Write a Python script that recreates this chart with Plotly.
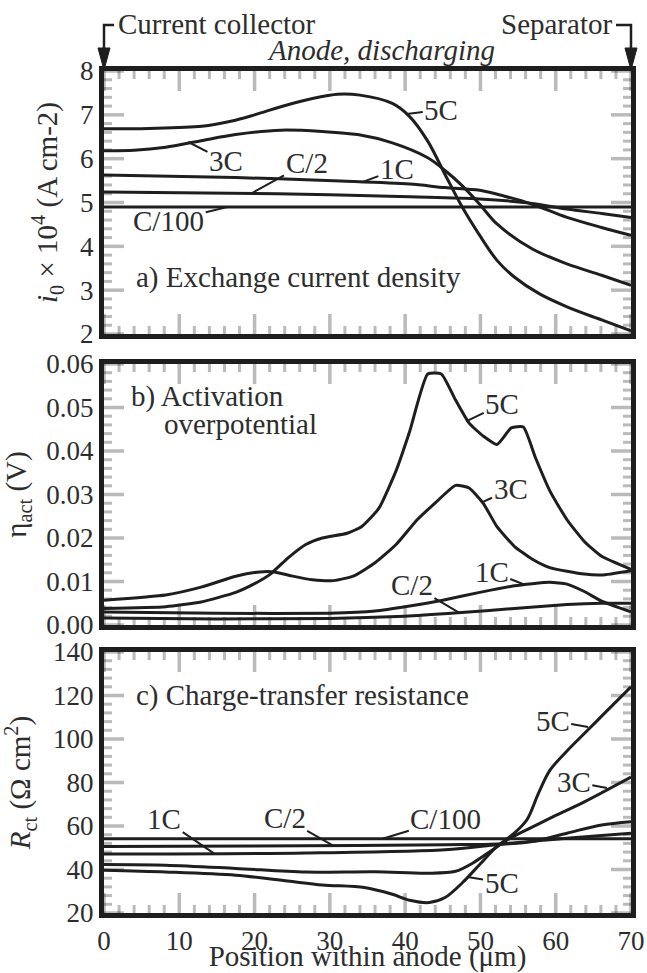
import plotly.graph_objects as go
from plotly.subplots import make_subplots

# ---------------- data ----------------
# Panel a: exchange current density i0 x 10^4 (A cm-2)
a_5C_x = [0, 6, 13, 17, 20, 25, 31, 34, 38.3, 40.6, 43, 45.3, 47.6, 49.9, 52.2, 54.5, 57.8, 61.5, 66.1, 70]
a_5C_y = [6.68, 6.69, 6.74, 6.86, 7.0, 7.26, 7.47, 7.45, 7.26, 6.96, 6.4, 5.64, 4.89, 4.25, 3.68, 3.3, 2.92, 2.62, 2.32, 2.07]
a_3C_x = [0, 4, 8.2, 12.9, 17.5, 23.5, 29, 33.7, 38.3, 43, 45.3, 47.6, 49.9, 52.2, 56.9, 61.5, 66.1, 70]
a_3C_y = [6.18, 6.19, 6.26, 6.41, 6.55, 6.65, 6.62, 6.55, 6.36, 6.02, 5.73, 5.38, 4.96, 4.51, 3.94, 3.6, 3.34, 3.11]
a_1C_x = [0, 17.5, 31.4, 40.6, 45.3, 49.9, 53.1, 56.9, 61.5, 66.1, 70]
a_1C_y = [5.63, 5.57, 5.49, 5.42, 5.34, 5.28, 5.15, 4.96, 4.66, 4.43, 4.25]
a_C2_x = [0, 23, 40.6, 49.9, 56.9, 61.5, 66.1, 70]
a_C2_y = [5.24, 5.2, 5.13, 5.08, 4.98, 4.85, 4.75, 4.66]
a_C100_x = [0, 70]
a_C100_y = [4.9, 4.9]

# Panel b: activation overpotential (V)
b_5C_x = [0, 8.2, 12.9, 17.5, 20, 22.1, 24.5, 26.8, 29, 32.3, 34.2, 36.5, 38.8, 40.6, 43, 44.8,
          46.7, 48.5, 50.4, 52.2, 54.1, 55.7, 57.3, 59.2, 61.5, 63.8, 66.1, 70]
b_5C_y = [0.0038, 0.0042, 0.0053, 0.0075, 0.0095, 0.0117, 0.0155, 0.0185, 0.02, 0.0211, 0.0226, 0.0268,
          0.0355, 0.0445, 0.0577, 0.0577, 0.0517, 0.0464, 0.0434, 0.0415, 0.0453, 0.0455, 0.0385,
          0.0309, 0.0242, 0.0192, 0.0158, 0.0128]
b_3C_x = [0, 8.2, 12.9, 17.5, 20.7, 22.6, 24.9, 27.7, 30.5, 33.2, 36, 38.8, 41.6, 43.9, 46.7, 48.5,
          50.4, 52.2, 54.5, 56.9, 59.2, 63.8, 66.1, 70]
b_3C_y = [0.0057, 0.0069, 0.0087, 0.0112, 0.0122, 0.0122, 0.0113, 0.0104, 0.0102, 0.0113, 0.0143,
          0.0185, 0.0242, 0.0279, 0.0321, 0.0315, 0.0279, 0.0226, 0.0181, 0.0151, 0.0132, 0.0117,
          0.0115, 0.0125]
b_1C_x = [0, 15, 30, 36, 40.4, 45, 49.9, 54.5, 59.2, 61.5, 63.8, 66.1, 70]
b_1C_y = [0.0030, 0.0027, 0.0027, 0.0032, 0.0043, 0.0057, 0.0075, 0.009, 0.0098, 0.0094, 0.0077, 0.0055, 0.003]
b_C2_x = [0, 15, 30, 40, 47, 54.5, 61.5, 66.1, 70]
b_C2_y = [0.0016, 0.0014, 0.0015, 0.002, 0.0028, 0.0038, 0.0047, 0.005, 0.005]

# Panel c: charge-transfer resistance (Ohm cm2)
c_C100_x = [0, 70]
c_C100_y = [54.1, 54.1]
c_C2_x = [0, 26.8, 45.3, 52.2, 59.2, 66.1, 70]
c_C2_y = [50.6, 50.9, 51.4, 51.7, 53.7, 55.6, 56.7]
c_1C_x = [0, 26.8, 45.3, 52.2, 56.9, 61.5, 66.1, 70]
c_1C_y = [47.1, 47.6, 49.1, 51.4, 52.9, 56.7, 60.5, 62]
c_3C_x = [0, 8.2, 17.5, 26.8, 36, 43, 46.7, 49, 51.3, 53.6, 56.4, 59.2, 63.8, 70]
c_3C_y = [42.3, 42, 40.5, 38.8, 39, 38.3, 39.2, 43, 48.3, 53.7, 58.7, 63.5, 71.1, 82.5]
c_5C_x = [0, 8.2, 17.5, 24.4, 29, 34.6, 38.3, 40.6, 43.2, 45.3, 47.6, 49.9, 52.2, 54.5, 56.2, 57.7,
          59.2, 61.5, 63.8, 66.1, 70]
c_5C_y = [39.7, 38.9, 37.4, 34.7, 32.9, 31.7, 28.6, 25.9, 24.8, 27.1, 33.9, 42.3, 50.6, 56.7, 63.0,
          75.0, 85.5, 94.5, 102.5, 110.5, 124.0]

# axis tick settings
x_range = [0, 70]
x_major = 10
x_minor = 2
yranges = {1: [2, 8], 2: [0, 0.06], 3: [20, 140]}
ymajor = {1: 1, 2: 0.01, 3: 20}
yminor = {1: 0.2, 2: 0.002, 3: 4}

# ---------------- style ----------------
W, H = 647, 973
ML, MR, MT, MB = 104, 16, 71, 60
PW, PH = W - ML - MR, H - MT - MB
LINE = "rgb(30,30,30)"
TXT = "rgb(45,45,45)"
FONT = "Liberation Serif"
TICKFS = 27
LABFS = 29
MAJLEN, MINLEN = 20, 8

ptop = {1: 71, 2: 364, 3: 652}
pbot = {1: 334, 2: 625, 3: 913}
ytitles = {1: "<i>i</i><sub>0</sub> × 10<sup>4</sup> (A cm-2)",
           2: "η<sub>act</sub> (V)",
           3: "<i>R</i><sub>ct</sub> (Ω cm<sup>2</sup>)"}


def py(p):  # pixel row -> paper y
    return (H - MB - p) / PH


def px(p):  # pixel column -> paper x
    return (p - ML) / PW


fig = make_subplots(rows=3, cols=1)

series = [
    (1, a_5C_x, a_5C_y), (1, a_3C_x, a_3C_y), (1, a_1C_x, a_1C_y), (1, a_C2_x, a_C2_y), (1, a_C100_x, a_C100_y),
    (2, b_5C_x, b_5C_y), (2, b_3C_x, b_3C_y), (2, b_1C_x, b_1C_y), (2, b_C2_x, b_C2_y),
    (3, c_C100_x, c_C100_y), (3, c_C2_x, c_C2_y), (3, c_1C_x, c_1C_y), (3, c_3C_x, c_3C_y), (3, c_5C_x, c_5C_y),
]
for row, xs, ys in series:
    sm = 0.5 if row == 2 else 0.9
    fig.add_trace(go.Scatter(x=xs, y=ys, mode="lines",
                             line=dict(color=LINE, width=3, shape="spline", smoothing=sm),
                             showlegend=False), row=row, col=1)

for r in (1, 2, 3):
    fig.update_xaxes(showline=True, linewidth=5, linecolor=LINE, mirror=True, ticks="",
                     showgrid=False, zeroline=False, automargin=False,
                     tickfont=dict(family=FONT, size=TICKFS, color=TXT),
                     range=x_range, dtick=x_major, tick0=0, showticklabels=(r == 3), row=r, col=1)
    fig.update_yaxes(showline=True, linewidth=5, linecolor=LINE, mirror=True, ticks="",
                     showgrid=False, zeroline=False, automargin=False,
                     tickfont=dict(family=FONT, size=TICKFS, color=TXT),
                     range=yranges[r], dtick=ymajor[r], tick0=0, domain=[py(pbot[r]), py(ptop[r])],
                     title=dict(text=ytitles[r], font=dict(family=FONT, size=LABFS, color=TXT)),
                     row=r, col=1)
fig.update_yaxes(tickformat=".2f", row=2, col=1)
fig.update_xaxes(title=dict(text="Position within anode (μm)", font=dict(family=FONT, size=LABFS, color=TXT)),
                 row=3, col=1)

# ---- tick marks (inside, on all four sides), generated from the tick settings ----
shapes = []
axes_ref = {1: ("x", "y"), 2: ("x2", "y2"), 3: ("x3", "y3")}
for r in (1, 2, 3):
    xr, yr = axes_ref[r]
    hpx = pbot[r] - ptop[r]
    nx = int(round((x_range[1] - x_range[0]) / x_minor))
    for k in range(nx + 1):
        v = x_range[0] + k * x_minor
        is_major = (k * x_minor) % x_major == 0
        ln = (MAJLEN if is_major else MINLEN) / hpx
        wd = 3.5 if is_major else 3
        for base, tip in ((0, ln), (1, 1 - ln)):
            shapes.append(dict(type="line", xref=xr, yref=yr + " domain", x0=v, x1=v, y0=base, y1=tip,
                               line=dict(color=LINE, width=wd)))
    y0, y1 = yranges[r]
    ny = int(round((y1 - y0) / yminor[r]))
    per = int(round(ymajor[r] / yminor[r]))
    for k in range(ny + 1):
        v = y0 + k * yminor[r]
        is_major = k % per == 0
        ln = (MAJLEN if is_major else MINLEN) / PW
        wd = 3.5 if is_major else 3
        for base, tip in ((0, ln), (1, 1 - ln)):
            shapes.append(dict(type="line", xref=xr + " domain", yref=yr, x0=base, x1=tip, y0=v, y1=v,
                               line=dict(color=LINE, width=wd)))


def label(text, r, x, y, tx, ty):
    # leader from label text (tx, ty) to curve point (x, y); offsets in pixels
    y0, y1 = yranges[r]
    ax = (tx - x) * PW / 70.0
    ay = -(ty - y) * (pbot[r] - ptop[r]) / (y1 - y0)
    xr, yr = axes_ref[r]
    fig.add_annotation(text=text, xref=xr, yref=yr, x=x, y=y, ax=ax, ay=ay,
                       showarrow=True, arrowhead=0, arrowwidth=2, arrowcolor=LINE,
                       font=dict(family=FONT, size=LABFS, color=TXT))


# panel a curve labels
label("5C", 1, 40.2, 7.02, 44.8, 7.12)
label("3C", 1, 11.2, 6.38, 16.2, 5.94)
label("C/2", 1, 19.6, 5.21, 26.9, 5.9)
label("1C", 1, 34.2, 5.46, 38.9, 5.76)
label("C/100", 1, 16.5, 4.9, 8.6, 4.58)
# panel b curve labels
label("5C", 2, 48.1, 0.0468, 52.9, 0.0508)
label("3C", 2, 50.2, 0.0282, 54.0, 0.0312)
label("1C", 2, 55.8, 0.0093, 51.5, 0.0123)
label("C/2", 2, 47.1, 0.0029, 40.9, 0.0092)
# panel c curve labels
label("1C", 3, 14.6, 47.4, 8.0, 63.0)
label("C/2", 3, 30.5, 50.9, 24.0, 63.5)
label("C/100", 3, 37.0, 54.1, 45.4, 63.0)
label("5C", 3, 64.3, 105.5, 59.6, 108.5)
label("3C", 3, 66.8, 77.5, 62.4, 80.3)
label("5C", 3, 48.3, 36.5, 52.8, 34.0)


def ptext(text, xr, yr, x, y, xanchor="left"):
    fig.add_annotation(text=text, xref=xr, yref=yr, x=x, y=y, xanchor=xanchor, yanchor="middle",
                       showarrow=False, font=dict(family=FONT, size=LABFS, color=TXT))


ptext("a) Exchange current density", "x", "y", 4.0, 3.3)
ptext("b) Activation", "x2", "y2", 3.3, 0.0525)
ptext("overpotential", "x2", "y2", 7.7, 0.0462)
ptext("c) Charge-transfer resistance", "x3", "y3", 4.0, 119.8)
ptext("Current collector", "paper", "paper", px(116), py(24))
ptext("Separator", "paper", "paper", px(614), py(24), xanchor="right")
ptext("<i>Anode, discharging</i>", "paper", "paper", px(381), py(50), xanchor="center")

for xa, xb in ((104, 114), (631, 616)):
    shapes.append(dict(type="path", xref="paper", yref="paper",
                       path=f"M{px(xb):.5f},{py(25):.5f} L{px(xa):.5f},{py(25):.5f} L{px(xa):.5f},{py(50):.5f}",
                       line=dict(color=LINE, width=2.5), opacity=1, fillcolor="rgba(0,0,0,0)"))
    shapes.append(dict(type="path", xref="paper", yref="paper",
                       path=f"M{px(xa-6):.5f},{py(48):.5f} L{px(xa+6):.5f},{py(48):.5f} L{px(xa):.5f},{py(70):.5f} Z",
                       fillcolor=LINE, line=dict(color=LINE, width=1), opacity=1))

fig.update_layout(template="simple_white", width=W, height=H,
                  margin=dict(l=ML, r=MR, t=MT, b=MB, autoexpand=False), showlegend=False,
                  shapes=shapes, paper_bgcolor="white", plot_bgcolor="white")

fig.write_html("out.html")
